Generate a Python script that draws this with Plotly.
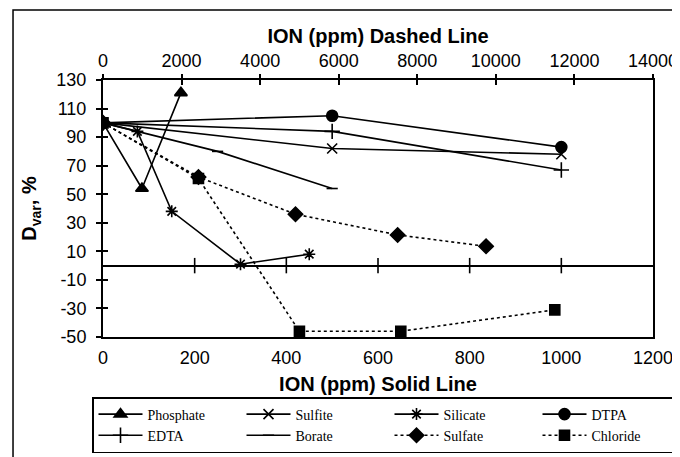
import plotly.graph_objects as go

# ---- data ----
phosphate_x = [0, 85, 170]
phosphate_y = [100, 54, 121]
sulfite_x = [0, 500, 1000]
sulfite_y = [100, 82, 78]
silicate_x = [0, 75, 150, 300, 450]
silicate_y = [100, 94, 38, 1, 8]
dtpa_x = [0, 500, 1000]
dtpa_y = [100, 105, 83]
edta_x = [0, 500, 1000]
edta_y = [100, 94, 67]
borate_x = [0, 250, 500]
borate_y = [100, 80, 54]
# dashed series use the top axis
sulfate_x = [0, 2430, 4900, 7500, 9750]
sulfate_y = [100, 62, 36, 21.5, 13.5]
chloride_x = [0, 2430, 5000, 7580, 11500]
chloride_y = [100, 61, -46, -46, -31]

bottom_ticks = [0, 200, 400, 600, 800, 1000, 1200]
top_ticks = [0, 2000, 4000, 6000, 8000, 10000, 12000, 14000]
y_ticks = [-50, -30, -10, 10, 30, 50, 70, 90, 110, 130]
zero_line_ticks = [200, 400, 600, 800, 1000]

BLACK = "black"
TICKFONT = dict(family="Liberation Sans, Arial", size=18, color=BLACK)
TITLEFONT = dict(family="Liberation Sans, Arial", size=20, color=BLACK)

fig = go.Figure()

def add(name, x, y, symbol, size, dash="solid", xaxis="x"):
    fig.add_trace(go.Scatter(
        x=x, y=y, name=name, mode="lines+markers", xaxis=xaxis, yaxis="y",
        line=dict(color=BLACK, width=1.6, dash=dash),
        marker=dict(symbol=symbol, size=size, color=BLACK,
                    line=dict(color=BLACK, width=1.6)),
    ))

add("Phosphate", phosphate_x, phosphate_y, "triangle-up", 11)
add("Sulfite", sulfite_x, sulfite_y, "x-thin-open", 10)
add("Silicate", silicate_x, silicate_y, "asterisk-open", 10)
add("DTPA", dtpa_x, dtpa_y, "circle", 11)
add("EDTA", edta_x, edta_y, "cross-thin-open", 11)
add("Borate", borate_x, borate_y, "line-ew-open", 8)
add("Sulfate", sulfate_x, sulfate_y, "diamond", 11, dash="dot", xaxis="x2")
add("Chloride", chloride_x, chloride_y, "square", 10, dash="dot", xaxis="x2")

# tick marks sitting on the zero line (category axis crosses at 0)
fig.add_trace(go.Scatter(
    x=zero_line_ticks, y=[0] * len(zero_line_ticks), mode="markers",
    marker=dict(symbol="line-ns-open", size=11, color=BLACK,
                line=dict(color=BLACK, width=1.6)),
    showlegend=False, hoverinfo="skip",
))

# the page body adds an 8px offset, so the figure is 8px smaller than the window
fig.update_layout(
    width=672, height=449,
    margin=dict(l=95, r=27, t=72, b=120, autoexpand=False),
    paper_bgcolor="white", plot_bgcolor="white",
    showlegend=True,
    xaxis=dict(
        range=[0, 1200], tickvals=bottom_ticks, ticktext=[str(v) for v in bottom_ticks],
        ticks="", showgrid=False, automargin=False,
        zeroline=False, showline=True, linecolor=BLACK, linewidth=2,
        tickfont=TICKFONT, ticklabelstandoff=3,
        title=dict(text="<b>ION (ppm) Solid Line</b>", font=TITLEFONT, standoff=10),
    ),
    xaxis2=dict(
        range=[0, 14000], tickvals=top_ticks, ticktext=[str(v) for v in top_ticks],
        overlaying="x", side="top", automargin=False,
        anchor="y", ticks="inside", ticklen=5, tickwidth=1.6, tickcolor=BLACK,
        showgrid=False, zeroline=False, showline=True, linecolor=BLACK,
        linewidth=2, tickfont=TICKFONT, ticklabelstandoff=4,
        title=dict(text="<b>ION (ppm) Dashed Line</b>", font=TITLEFONT, standoff=2),
    ),
    xaxis3=dict(
        range=[0, 14000], tickvals=top_ticks, overlaying="x", side="top",
        anchor="y", ticks="outside", ticklen=5, tickwidth=1.6, tickcolor=BLACK,
        showgrid=False, zeroline=False, showline=False, showticklabels=False,
        automargin=False,
    ),
    yaxis=dict(
        range=[-50, 130], tickvals=y_ticks, ticktext=[str(v) for v in y_ticks],
        ticks="outside", ticklen=5, automargin=False,
        tickwidth=1.6, tickcolor=BLACK, showgrid=False,
        zeroline=True, zerolinecolor=BLACK, zerolinewidth=2,
        showline=True, linecolor=BLACK, linewidth=2, mirror=True,
        tickfont=TICKFONT, ticklabelstandoff=6,
        title=dict(text="<b>D<sub>var</sub>, %</b>", font=TITLEFONT, standoff=14),
    ),
    yaxis2=dict(
        range=[-50, 130], tickvals=y_ticks, overlaying="y", side="left",
        anchor="x", ticks="inside", ticklen=5, tickwidth=1.6, tickcolor=BLACK,
        showgrid=False, zeroline=False, showline=False, showticklabels=False,
        automargin=False,
    ),
    legend=dict(
        orientation="h", x=-0.02, y=-0.2335, xanchor="left", yanchor="top",
        bordercolor=BLACK, borderwidth=1.5, bgcolor="white",
        font=dict(family="Liberation Serif, Times New Roman", size=14, color=BLACK),
        entrywidth=89, entrywidthmode="pixels", tracegroupgap=0,
        itemwidth=44,
    ),
    shapes=[dict(
        type="rect", xref="paper", yref="paper",
        x0=-0.1636, x1=1.2, y0=-0.6, y1=1.272,
        line=dict(color=BLACK, width=1.5), fillcolor="rgba(0,0,0,0)", layer="below",
    )],
)

# dummy traces to make the overlay axes render
fig.add_trace(go.Scatter(x=[None], y=[None], xaxis="x3", yaxis="y", showlegend=False, hoverinfo="skip"))
fig.add_trace(go.Scatter(x=[None], y=[None], xaxis="x", yaxis="y2", showlegend=False, hoverinfo="skip"))

fig.write_html("out.html")
